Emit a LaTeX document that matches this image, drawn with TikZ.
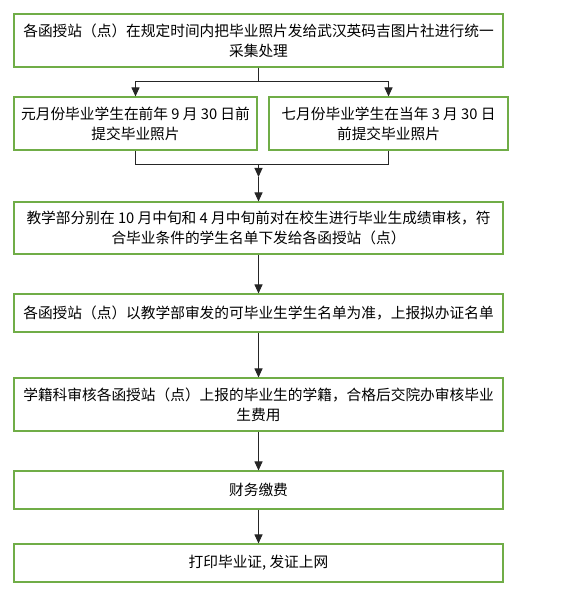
\documentclass[tikz,border=0pt]{standalone}
\usepackage{fontspec}
\newfontfamily\cjk{Noto Sans CJK SC}
\usetikzlibrary{arrows.meta}
\definecolor{boxgreen}{HTML}{70AD47}
\begin{document}
\begin{tikzpicture}[
  x=1pt, y=-1pt,
  stepbox/.style={rectangle, draw=boxgreen, line width=1.1pt, minimum width=489pt, minimum height=53pt, align=center, inner sep=2pt, font=\cjk\fontsize{14.7}{20}\selectfont},
  arrow/.style={-{Triangle[width=8pt,length=9pt]}, line width=1pt, black!85}
]
  \useasboundingbox (0,0) rectangle (565,601);

  % Collecting photos
  \node[stepbox] (collect) at (258.5,40.5) {各函授站（点）在规定时间内把毕业照片发给武汉英码吉图片社进行统一\\采集处理};

  % Two submission dates
  \node[stepbox, minimum width=243pt] (jan) at (135.5,123.5) {元月份毕业学生在前年 9 月 30 日前\\提交毕业照片};
  \node[stepbox, minimum width=239pt] (jul) at (388.5,123.5) {七月份毕业学生在当年 3 月 30 日\\前提交毕业照片};

  % Following steps
  \node[stepbox, minimum height=52pt] (review) at (258.5,228) {教学部分别在 10 月中旬和 4 月中旬前对在校生进行毕业生成绩审核，符\\合毕业条件的学生名单下发给各函授站（点）};
  \node[stepbox, minimum height=38pt] (report) at (258.5,313) {各函授站（点）以教学部审发的可毕业生学生名单为准，上报拟办证名单};
  \node[stepbox] (status) at (258.5,404.5) {学籍科审核各函授站（点）上报的毕业生的学籍，合格后交院办审核毕业\\生费用};
  \node[stepbox, minimum height=38pt] (fee) at (258.5,490) {财务缴费};
  \node[stepbox, minimum height=38pt] (print) at (258.5,563) {打印毕业证, 发证上网};

  \coordinate (merge) at (258.5,164);
  \coordinate (mid) at (258.5,177);

  % Arrows
  \draw[arrow] (collect.south) -- ++(0,14) -| (jan.north);
  \draw[arrow] (collect.south) -- ++(0,14) -| (jul.north);
  \draw[arrow, -] (jan.south) -- ++(0,14) -| (merge);
  \draw[arrow, -] (jul.south) -- ++(0,14) -| (merge);
  \draw[arrow] (merge) -- (mid);
  \draw[arrow] (mid) -- (review.north);
  \draw[arrow] (review.south) -- (report.north);
  \draw[arrow] (report.south) -- (status.north);
  \draw[arrow] (status.south) -- (fee.north);
  \draw[arrow] (fee.south) -- (print.north);
\end{tikzpicture}
\end{document}
